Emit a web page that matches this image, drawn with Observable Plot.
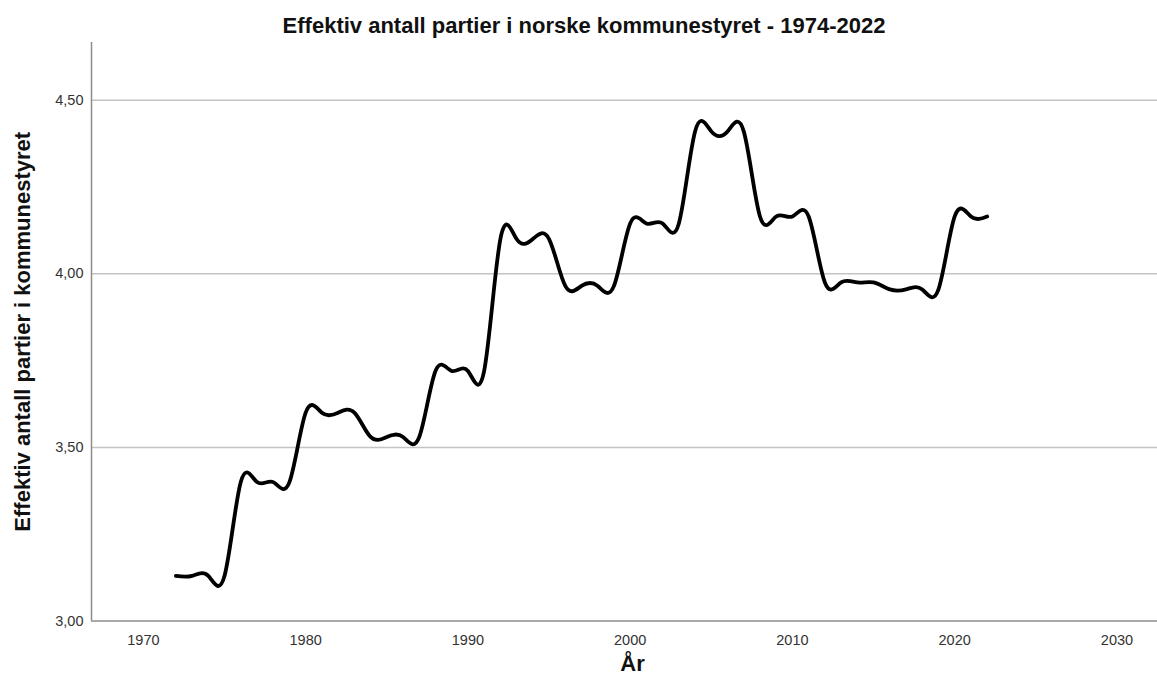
<!DOCTYPE html>
<html>
<head>
<meta charset="utf-8">
<script src="https://cdn.jsdelivr.net/npm/d3@7"></script>
<script src="https://cdn.jsdelivr.net/npm/@observablehq/plot@0.6"></script>
<style>
  html, body { margin: 0; padding: 0; background: #fff; }
  #wrap { position: relative; width: 1157px; height: 686px; font-family: "Liberation Sans", Arial, sans-serif; }
  #title { height: 42px; position: relative; }
  #title span { position: absolute; left: 0; width: 1168px; top: 13px; text-align: center; font-size: 22px; font-weight: bold; color: #111; white-space: nowrap; line-height: 25px; }
</style>
</head>
<body>
<div id="wrap">
  <div id="title"><span id="titleText"></span></div>
  <div id="chart"></div>
</div>
<script>
const titleText = "Effektiv antall partier i norske kommunestyret - 1974-2022";
const xLabel = "År";
const yLabel = "Effektiv antall partier i kommunestyret";

const years = [
  1972, 1973, 1974, 1975, 1976, 1977, 1978, 1979, 1980, 1981,
  1982, 1983, 1984, 1985, 1986, 1987, 1988, 1989, 1990, 1991,
  1992, 1993, 1994, 1995, 1996, 1997, 1998, 1999, 2000, 2001,
  2002, 2003, 2004, 2005, 2006, 2007, 2008, 2009, 2010, 2011,
  2012, 2013, 2014, 2015, 2016, 2017, 2018, 2019, 2020, 2021,
  2022
];
const values = [
  3.13, 3.13, 3.13, 3.13, 3.40, 3.40, 3.40, 3.40, 3.60, 3.60,
  3.60, 3.60, 3.53, 3.53, 3.53, 3.53, 3.72, 3.72, 3.72, 3.72,
  4.10, 4.10, 4.10, 4.10, 3.965, 3.965, 3.965, 3.965, 4.145, 4.145,
  4.145, 4.145, 4.41, 4.41, 4.41, 4.41, 4.165, 4.165, 4.165, 4.165,
  3.975, 3.975, 3.975, 3.975, 3.955, 3.955, 3.955, 3.955, 4.165, 4.165,
  4.165
];
const xTicks = [1970, 1980, 1990, 2000, 2010, 2020, 2030];
const yTicks = [3.0, 3.5, 4.0, 4.5];
const yGrid = [3.5, 4.0, 4.5];

document.getElementById("titleText").textContent = titleText;

const data = years.map((year, i) => ({year, value: values[i]}));
const font = "Liberation Sans, Arial, sans-serif";

const chart = Plot.plot({
  width: 1157,
  height: 644,
  marginLeft: 91,
  marginRight: 0,
  marginTop: 0,
  marginBottom: 65.5,
  style: {fontFamily: font, fontSize: "14.5px", color: "#333", background: "#fff", overflow: "visible"},
  x: {domain: [1966.8, 2032.5], label: null},
  y: {domain: [3.0, 4.666], label: null},
  marks: [
    Plot.gridY(yGrid, {stroke: "#c4c4c4", strokeOpacity: 1, strokeWidth: 1.5}),
    Plot.axisX(xTicks, {tickSize: 0, tickPadding: 14, tickFormat: d => String(d), fontSize: 14.5, fill: "#333", label: null}),
    Plot.axisY(yTicks, {tickSize: 0, tickPadding: 8, tickFormat: d => d.toFixed(2).replace(".", ","), fontSize: 14.5, fill: "#333", label: null}),
    Plot.ruleX([1966.8], {stroke: "#8c8c8c", strokeWidth: 1.5}),
    Plot.ruleY([3.0], {stroke: "#8c8c8c", strokeWidth: 1.5}),
    Plot.line(data, {x: "year", y: "value", curve: "natural", stroke: "#000", strokeWidth: 3.8, strokeLinejoin: "round"}),
    Plot.text([xLabel], {frameAnchor: "bottom", dx: 8, dy: 43, lineAnchor: "middle", textAnchor: "middle", fontSize: 22, fontWeight: "bold", fill: "#111"}),
    Plot.text([yLabel], {frameAnchor: "left", dx: -69, rotate: -90, lineAnchor: "middle", textAnchor: "middle", fontSize: 22, fontWeight: "bold", fill: "#111"})
  ]
});
document.getElementById("chart").appendChild(chart);
</script>
</body>
</html>
